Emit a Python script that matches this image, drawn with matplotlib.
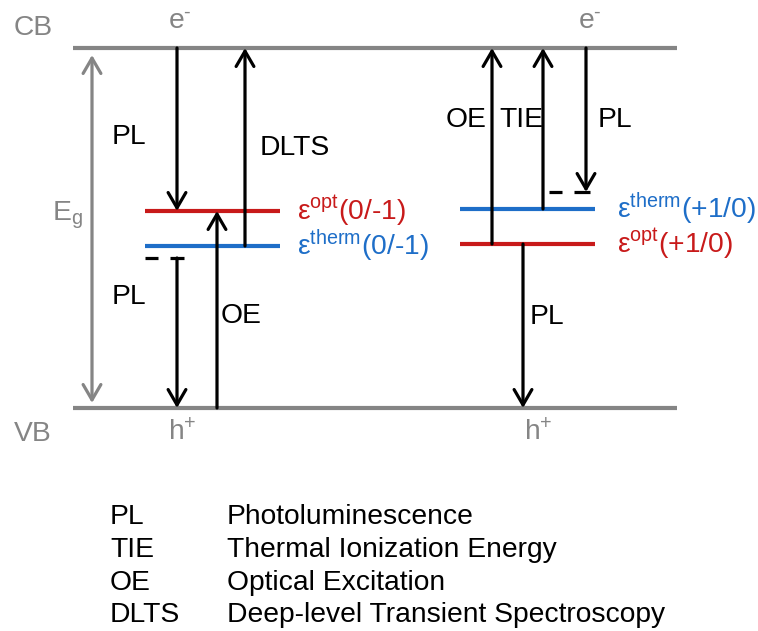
import matplotlib
matplotlib.use("Agg")
import matplotlib.pyplot as plt

plt.rcParams['font.family'] = ['Liberation Sans', 'DejaVu Sans']
plt.rcParams['mathtext.fontset'] = 'custom'
plt.rcParams['mathtext.rm'] = 'Liberation Sans'
plt.rcParams['mathtext.it'] = 'Liberation Sans:italic'
plt.rcParams['mathtext.bf'] = 'Liberation Sans:bold'

GRAY = '#858585'
RED = '#C81A1A'
BLUE = '#1E6EC8'

# ---- diagram data (pixel coordinates of the schematic) ----
band_names = ['CB', 'VB']
band_y = [48, 408]
band_x = [73, 677]

# defect levels
level_x0 = [145, 145, 460, 460]
level_x1 = [280, 280, 595, 595]
level_y = [211, 246, 209, 244]
level_color = [RED, BLUE, BLUE, RED]
level_sup = ['opt', 'therm', 'therm', 'opt']
level_state = ['(0/\u20101)', '(0/\u20101)', '(+1/0)', '(+1/0)']
level_label_x = [297, 297, 617, 617]

# transition arrows: x, start y, end y (arrow head at end)
arrow_x = [177, 245, 177, 217, 492, 543, 586, 523]
arrow_y0 = [48, 246, 258, 408, 244, 209, 48, 244]
arrow_y1 = [211, 48, 408, 211, 48, 48, 192, 408]

# transition labels
trans_text = ['PL', 'DLTS', 'PL', 'OE', 'OE', 'TIE', 'PL', 'PL']
trans_x = [112, 260, 112, 221, 446, 499, 598, 530]
trans_y = [137, 148, 297, 316, 120, 120, 120, 317]

# dashed marks (virtual levels)
dash_y = [258, 258, 192, 192]
dash_x0 = [145, 170, 549, 574]
dash_x1 = [158, 184, 562, 590]

# carriers
carrier_text = ['e$^{\u2010}$', 'e$^{\u2010}$', r'h$^{+}$', r'h$^{+}$']
carrier_x = [168, 578, 168, 524]
carrier_y = [23, 23, 433, 433]

legend_abbr = ['PL', 'TIE', 'OE', 'DLTS']
legend_desc = ['Photoluminescence', 'Thermal Ionization Energy',
               'Optical Excitation', 'Deep-level Transient Spectroscopy']
legend_y = [517, 550, 583, 615]

fig = plt.figure(figsize=(7.58, 6.31), dpi=100)
ax = fig.add_axes([0, 0, 1, 1])
ax.set_xlim(0, 758)
ax.set_ylim(631, 0)
ax.axis('off')

FS = 20.3

for name, y in zip(band_names, band_y):
    ax.plot(band_x, [y, y], color=GRAY, lw=3, solid_capstyle='butt')
    ax.text(14, y - 20 if name == 'CB' else y + 26, name, color=GRAY,
            fontsize=FS, va='center', ha='left')

# Eg arrow
ax.annotate('', xy=(92, 55), xytext=(92, 403),
            arrowprops=dict(arrowstyle='<->,head_length=0.55,head_width=0.32',
                            lw=2.3, color=GRAY, shrinkA=0, shrinkB=0,
                            mutation_scale=20))
ax.text(52, 215, r'E$_\mathregular{g}$', color=GRAY, fontsize=FS,
        va='center', ha='left')

for x0, x1, y, c, sup, st, lx in zip(level_x0, level_x1, level_y, level_color,
                                     level_sup, level_state, level_label_x):
    ax.plot([x0, x1], [y, y], color=c, lw=3, solid_capstyle='butt')
    lab = r'$\mathregular{ε^{%s}%s}$' % (sup, st)
    ax.text(lx, y, lab, color=c, fontsize=FS, va='center', ha='left')

for x, y0, y1 in zip(arrow_x, arrow_y0, arrow_y1):
    ax.annotate('', xy=(x, y1), xytext=(x, y0),
                arrowprops=dict(arrowstyle='->,head_length=0.55,head_width=0.32',
                                lw=2.3, color='black', shrinkA=0, shrinkB=0,
                                mutation_scale=20))

for t, x, y in zip(trans_text, trans_x, trans_y):
    ax.text(x, y, t, color='black', fontsize=FS, va='center', ha='left')

for y, x0, x1 in zip(dash_y, dash_x0, dash_x1):
    ax.plot([x0, x1], [y, y], color='black', lw=2.3, solid_capstyle='butt')

for t, x, y in zip(carrier_text, carrier_x, carrier_y):
    ax.text(x, y, t, color=GRAY, fontsize=FS, va='center', ha='left')

for a, d, y in zip(legend_abbr, legend_desc, legend_y):
    ax.text(110, y, a, color='black', fontsize=FS, va='center', ha='left')
    ax.text(227, y, d, color='black', fontsize=FS, va='center', ha='left')

fig.savefig('out.png', dpi=100)
